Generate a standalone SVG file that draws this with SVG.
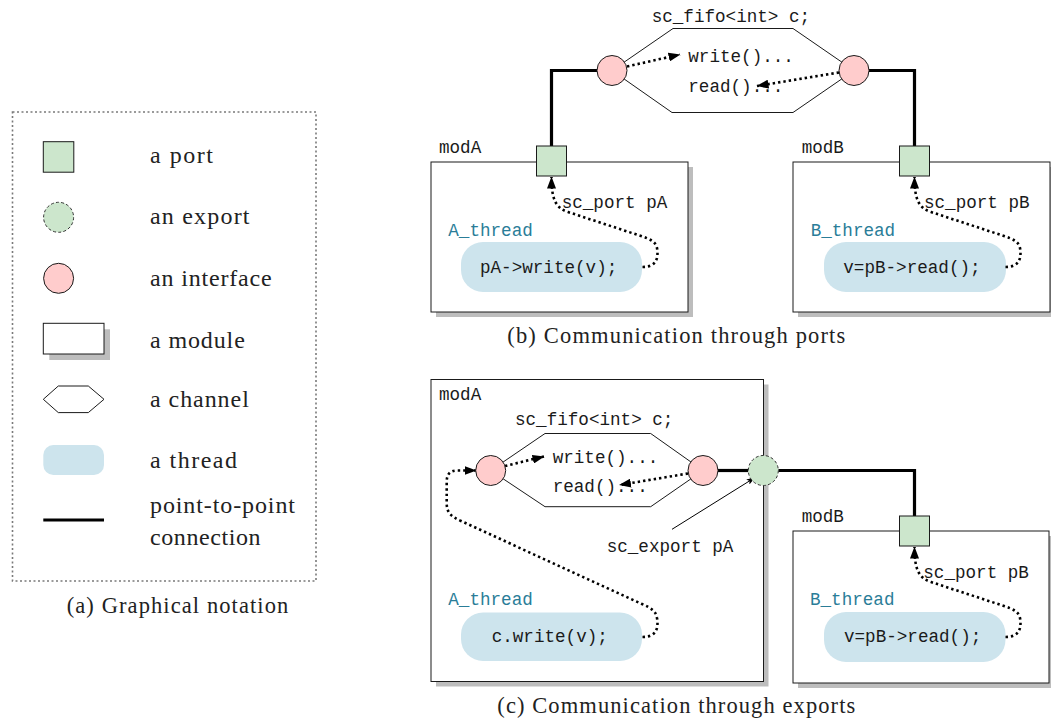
<svg xmlns="http://www.w3.org/2000/svg" width="1051" height="720" viewBox="0 0 1051 720">
<style>
  .mono { font-family: "Liberation Mono", "DejaVu Sans Mono", monospace; font-size: 17.6px; fill: #1a1a1a; }
  .teal { fill: #2a7d98; }
  .serif { font-family: "Liberation Serif", "Times New Roman", serif; font-size: 24px; fill: #222; }
  .cap { font-family: "Liberation Serif", "Times New Roman", serif; font-size: 22.5px; fill: #222; }
  .port { fill: #cce6cc; stroke: #1a1a1a; stroke-width: 1; }
  .export { fill: #cce6cc; stroke: #333; stroke-width: 1; stroke-dasharray: 3 2.2; }
  .iface { fill: #ffcccc; stroke: #1a1a1a; stroke-width: 1; }
  .module { fill: #ffffff; stroke: #1a1a1a; stroke-width: 1; }
  .shadow { fill: #bdbdbd; }
  .channel { fill: #ffffff; stroke: #1a1a1a; stroke-width: 1; }
  .thread { fill: #cde4ed; }
  .wire { fill: none; stroke: #000; stroke-width: 3.2; }
  .dot { fill: none; stroke: #000; stroke-width: 2.6; stroke-dasharray: 2.4 3; }
  .thin { fill: none; stroke: #000; stroke-width: 1; }
</style>
<defs>
  <marker id="ah" markerWidth="12" markerHeight="9" refX="11.5" refY="4.5" orient="auto" markerUnits="userSpaceOnUse">
    <path d="M0,0 L12,4.5 L0,9 Z" fill="#000"/>
  </marker>
  <marker id="ahs" markerWidth="9" markerHeight="6" refX="8.5" refY="3" orient="auto" markerUnits="userSpaceOnUse">
    <path d="M0,0 L9,3 L0,6 L2,3 Z" fill="#000"/>
  </marker>
</defs>

<!-- (a) Legend -->
<g id="legend">
  <rect x="12.5" y="112" width="303.5" height="469" fill="none" stroke="#7a7a7a" stroke-width="1.6" stroke-dasharray="2 2.5"/>
  <rect class="port" x="43.3" y="141.7" width="30.5" height="30.5"/>
  <text class="serif" x="150" y="163.3" textLength="63" lengthAdjust="spacing">a port</text>
  <circle class="export" cx="58.6" cy="217.3" r="15"/>
  <text class="serif" x="150" y="224" textLength="99.5" lengthAdjust="spacing">an export</text>
  <circle class="iface" cx="58.6" cy="278.3" r="15"/>
  <text class="serif" x="150" y="286" textLength="121.7" lengthAdjust="spacing">an interface</text>
  <rect class="shadow" x="49.3" y="329.3" width="60.7" height="30.7"/>
  <rect class="module" x="43.3" y="323.3" width="60.7" height="30.7"/>
  <text class="serif" x="150" y="348.3" textLength="94.8" lengthAdjust="spacing">a module</text>
  <polygon class="channel" points="43.3,399.3 58.3,386 88.3,386 104,399.3 88.3,412.6 58.3,412.6"/>
  <text class="serif" x="150" y="407.3" textLength="98.8" lengthAdjust="spacing">a channel</text>
  <rect class="thread" x="43.3" y="445" width="60.7" height="30" rx="10"/>
  <text class="serif" x="150" y="468.3" textLength="87" lengthAdjust="spacing">a thread</text>
  <line class="wire" x1="43.3" y1="520" x2="104" y2="520"/>
  <text class="serif" x="150" y="512.7" textLength="145" lengthAdjust="spacing">point-to-point</text>
  <text class="serif" x="150" y="545" textLength="110.6" lengthAdjust="spacing">connection</text>
  <text class="cap" x="66.7" y="613.3" textLength="221.6" lengthAdjust="spacing">(a) Graphical notation</text>
</g>

<!-- (b) Communication through ports -->
<g id="b-modA">
  <rect class="shadow" x="436" y="167" width="257" height="150"/>
  <rect class="module" x="431" y="162" width="257" height="150"/>
  <text class="mono" x="439" y="153">modA</text>
  <text class="mono teal" x="448.3" y="236">A_thread</text>
</g>
<g id="b-A_thread">
  <rect class="thread" x="461" y="242" width="181" height="50" rx="22"/>
  <text class="mono" x="480" y="273.3">pA-&gt;write(v);</text>
</g>
<g id="b-modB">
  <rect class="shadow" x="798" y="167" width="257" height="150"/>
  <rect class="module" x="793" y="162" width="257" height="150"/>
  <text class="mono" x="801.7" y="153">modB</text>
  <text class="mono teal" x="810.7" y="236">B_thread</text>
</g>
<g id="b-B_thread">
  <rect class="thread" x="824" y="242" width="182" height="50" rx="22"/>
  <text class="mono" x="843.3" y="273.3">v=pB-&gt;read();</text>
</g>
<g id="b-channel">
  <polygon class="channel" points="612,70.5 673,28.5 793,28.5 854,70.5 793,112.5 672,112.5"/>
  <text class="mono" x="651.7" y="21.7">sc_fifo&lt;int&gt; c;</text>
  <text class="mono" x="688.3" y="61.7">write()...</text>
  <text class="mono" x="688.3" y="91.7">read()...</text>
</g>

<g id="b-connectors">
  <path class="wire" d="M597,70.5 H551.5 V146"/>
  <path class="wire" d="M869,70.5 H914.5 V146"/>
  <path class="dot" d="M627,66.5 L680,54.5" marker-end="url(#ah)"/>
  <path class="dot" d="M839,72.5 L757,86" marker-end="url(#ah)"/>
  <path class="dot" d="M642.5,267 C655,267 659,260 657,248 C656,242 650,239 641,236 L568,212 C556,208 551.5,200 551.5,177" marker-end="url(#ah)"/>
  <path class="dot" d="M1005.5,267 C1018,267 1022,260 1020,248 C1019,242 1013,239 1004,236 L931,212 C919,208 914.5,200 914.5,177" marker-end="url(#ah)"/>
</g>

<g id="b-ifaceA"><circle class="iface" cx="612" cy="70.5" r="15"/></g>
<g id="b-ifaceB"><circle class="iface" cx="854" cy="70.5" r="15"/></g>
<g id="b-portA">
  <rect class="port" x="536.5" y="146" width="30" height="30"/>
  <text class="mono" x="561.7" y="208.3">sc_port pA</text>
</g>
<g id="b-portB">
  <rect class="port" x="899.5" y="146" width="30" height="30"/>
  <text class="mono" x="924" y="208.3">sc_port pB</text>
</g>
<text class="cap" x="507.3" y="343.3" textLength="338" lengthAdjust="spacing">(b) Communication through ports</text>

<!-- (c) Communication through exports -->
<g id="c-modA">
  <rect class="shadow" x="436" y="384.5" width="332.5" height="302"/>
  <rect class="module" x="431" y="379.5" width="332.5" height="302"/>
  <text class="mono" x="439" y="400">modA</text>
  <text class="mono teal" x="448.3" y="605">A_thread</text>
</g>
<g id="c-A_thread">
  <rect class="thread" x="461" y="612.5" width="181" height="48.5" rx="22"/>
  <text class="mono" x="491.7" y="641.7">c.write(v);</text>
</g>
<g id="c-modB">
  <rect class="shadow" x="798" y="536" width="256" height="152"/>
  <rect class="module" x="793" y="531" width="256" height="152"/>
  <text class="mono" x="801.7" y="521.7">modB</text>
  <text class="mono teal" x="810" y="605">B_thread</text>
</g>
<g id="c-B_thread">
  <rect class="thread" x="824" y="612" width="181.5" height="50" rx="22"/>
  <text class="mono" x="844" y="641.7">v=pB-&gt;read();</text>
</g>
<g id="c-channel">
  <polygon class="channel" points="490.7,470.5 545,433.5 650.7,433.5 703,470.5 650.7,506.7 545,506.7"/>
  <text class="mono" x="515" y="425">sc_fifo&lt;int&gt; c;</text>
  <text class="mono" x="552.7" y="463.3">write()...</text>
  <text class="mono" x="552.7" y="491.7">read()...</text>
</g>

<g id="c-connectors">
  <path class="wire" d="M718,470.5 H748.3"/>
  <path class="wire" d="M778.3,470.5 H914.5 V516"/>
  <path class="dot" d="M505,466 L544,456.5" marker-end="url(#ah)"/>
  <path class="dot" d="M688,473.5 L619.5,485" marker-end="url(#ah)"/>
  <path class="dot" d="M642.5,637 C655,637 659,630 657,618 C656,611 651,608 642,604 L461,521 C450,516 446.7,512 446.7,503 L446.7,482 C446.7,474 450,470.5 458,470.5 L476,470.5" marker-end="url(#ah)"/>
  <path class="dot" d="M1005.5,637 C1018,637 1022,630 1020,618 C1019,612 1013,609 1004,606 L931,582 C919,578 914.5,570 914.5,547" marker-end="url(#ah)"/>
  <path class="thin" d="M672,529.3 L755,477.5" marker-end="url(#ahs)"/>
</g>

<g id="c-ifaceA"><circle class="iface" cx="490.7" cy="470.5" r="15"/></g>
<g id="c-ifaceB"><circle class="iface" cx="703" cy="470.5" r="15"/></g>
<g id="c-exportA">
  <circle class="export" cx="763.3" cy="470.5" r="15"/>
  <text class="mono" x="606.7" y="551.7">sc_export pA</text>
</g>
<g id="c-portB">
  <rect class="port" x="899.5" y="516" width="30" height="30"/>
  <text class="mono" x="923.3" y="578.3">sc_port pB</text>
</g>
<text class="cap" x="497.3" y="713.3" textLength="358" lengthAdjust="spacing">(c) Communication through exports</text>
</svg>
